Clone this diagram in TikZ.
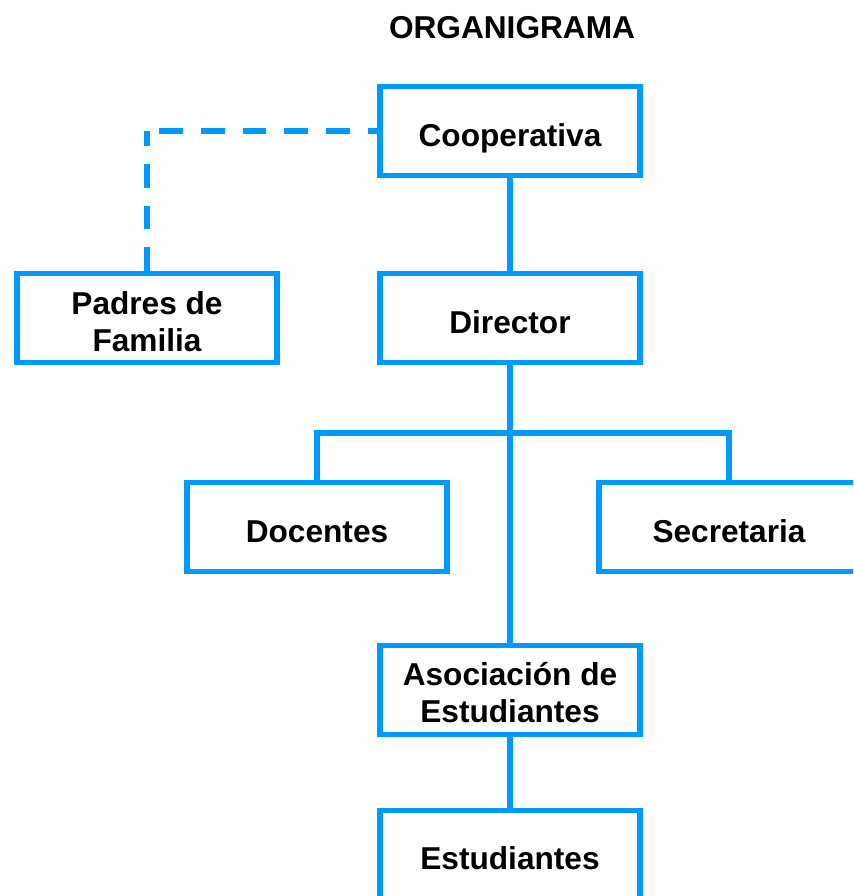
\documentclass[tikz,border=0pt]{standalone}
\usepackage{fontspec}
\setmainfont{Liberation Sans}
\usepackage{xcolor}
\usepackage{tikz}
\usetikzlibrary{positioning, calc}
\definecolor{orgblue}{RGB}{0, 153, 255}

\begin{document}
\begin{tikzpicture}[
    x=0.02cm, y=-0.02cm,
    unit/.style={draw=orgblue, line width=2.9pt, minimum width=5.2cm, minimum height=1.77cm},
    txt/.style={anchor=base, align=center, font=\fontsize{18}{21}\selectfont\bfseries},
    link/.style={draw=orgblue, line width=2.9pt},
    dotlink/.style={link, dash pattern=on 13.6pt off 10.2pt}
]
    \useasboundingbox (0, 0) rectangle (853, 896);
    \clip (0, 0) rectangle (853, 896);

    % Title
    \node[font=\fontsize{18}{21}\selectfont\bfseries] (title) at (512, 28) {ORGANIGRAMA};

    % Units
    \node[unit] (coop) at (510, 131) {};
    \node[txt] (coop-t) at ($(coop)+(0, 15)$) {Cooperativa};

    \node[unit] (padres) at (147, 318) {};
    \node[txt] (padres-t) at ($(padres)+(0, 33)$) {Padres de\\Familia};

    \node[unit] (director) at (510, 318) {};
    \node[txt] (director-t) at ($(director)+(0, 15)$) {Director};

    \node[unit] (docentes) at (317, 527) {};
    \node[txt] (docentes-t) at ($(docentes)+(0, 15)$) {Docentes};

    \node[unit] (secretaria) at (729, 527) {};
    \node[txt] (secretaria-t) at ($(secretaria)+(0, 15)$) {Secretaria};

    \node[unit] (asociacion) at (510, 690) {};
    \node[txt] (asociacion-t) at ($(asociacion)+(0, 32)$) {Asociación de\\Estudiantes};

    \node[unit] (estudiantes) at (510, 855) {};
    \node[txt] (estudiantes-t) at ($(estudiantes)+(0, 14)$) {Estudiantes};

    \coordinate (bus) at (510, 433);
    \coordinate (corner) at (147, 131);

    % Links
    \draw[link] (coop) -- (director);
    \draw[link] (director) -- (asociacion);
    \draw[link] (docentes.north) |- (bus) -| (secretaria.north);
    \draw[link] (asociacion) -- (estudiantes);
    \draw[dotlink] (padres.north) -- (corner);
    \draw[dotlink, dash phase=17pt] (corner) -- (coop.west);

\end{tikzpicture}
\end{document}
